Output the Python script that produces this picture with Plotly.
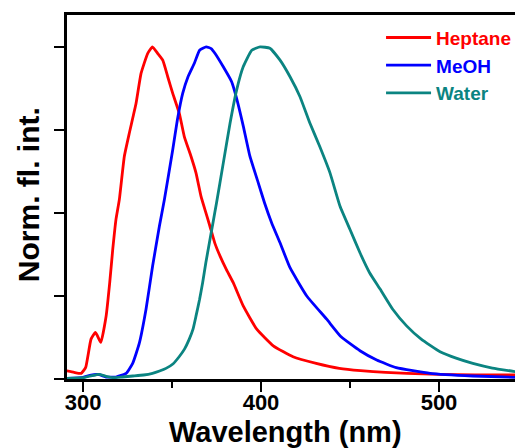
import plotly.graph_objects as go

# Heptane (red)
hep_x = [290.5, 295, 299, 301.5, 304.5, 307, 310, 313, 315, 316.7, 318.5, 320.4, 323.2, 326, 329.8,
         332.6, 336.3, 339, 342, 344.8, 347.6, 350.4, 354.1, 356.9, 360.7, 363.5, 366.3, 368.5,
         371.3, 374, 377, 380.5, 384.4, 390, 397.6, 406.9, 418, 431, 444, 456, 470, 482, 500, 520, 543]
hep_y = [0.025, 0.02, 0.017, 0.035, 0.12, 0.14, 0.11, 0.19, 0.29, 0.39, 0.48, 0.54, 0.67, 0.74, 0.83,
         0.92, 0.98, 1.0, 0.98, 0.96, 0.91, 0.86, 0.80, 0.73, 0.67, 0.62, 0.55, 0.51,
         0.46, 0.41, 0.37, 0.33, 0.29, 0.22, 0.15, 0.10, 0.067, 0.047, 0.032, 0.025, 0.02, 0.017, 0.014, 0.012, 0.012]

# MeOH (blue)
meoh_x = [290.5, 300, 304.5, 309, 313, 318.5, 324.2, 327.9, 331.6, 335.4, 339.1, 342.9, 345.7, 350.4,
          353, 356, 359, 362.5, 365.5, 369.2, 372, 374.2, 378.8, 383.5, 386.3, 390.1, 393.8, 398.5,
          402, 406, 410.7, 416.3, 425.7, 436.9, 445, 455.6, 465, 476, 495, 519, 543]
meoh_y = [0.002, 0.005, 0.012, 0.013, 0.006, 0.006, 0.017, 0.047, 0.107, 0.21, 0.34, 0.46, 0.54, 0.69,
          0.78, 0.86, 0.91, 0.95, 0.99, 1.0, 0.995, 0.98, 0.94, 0.895, 0.845, 0.76, 0.67, 0.59,
          0.53, 0.47, 0.41, 0.335, 0.25, 0.18, 0.127, 0.085, 0.057, 0.034, 0.017, 0.009, 0.005]

# Water (teal)
water_x = [290.5, 300, 305, 309, 313, 317, 322, 328, 334, 339, 343, 346.6, 350.5, 354, 357, 359.7,
           361.8, 363.5, 365.5, 367.2, 369, 371, 373, 375, 378.8, 382.6, 386.3, 390, 394.8, 399.5,
           405, 410.7, 416.3, 421.9, 427.5, 433, 438.8, 444.4, 450, 455.6, 461, 467, 474, 481.8,
           490, 500.6, 510, 519, 530, 543]
water_y = [0.002, 0.004, 0.01, 0.014, 0.008, 0.004, 0.006, 0.009, 0.012, 0.017, 0.024, 0.032, 0.045,
           0.067, 0.09, 0.12, 0.15, 0.19, 0.24, 0.29, 0.35, 0.41, 0.47, 0.53, 0.65, 0.77, 0.87, 0.94,
           0.99, 1.0, 0.996, 0.96, 0.91, 0.85, 0.77, 0.70, 0.62, 0.52, 0.45, 0.38, 0.32, 0.27, 0.21,
           0.16, 0.12, 0.082, 0.062, 0.047, 0.033, 0.022]

x_tick_vals = [300, 400, 500]
x_tick_text = ["300", "400", "500"]
y_tick_vals = [0, 0.25, 0.5, 0.75, 1.0]

FONT = "Arial, Liberation Sans, sans-serif"
RED, BLUE, TEAL = "#ff0000", "#0000ff", "#0b8481"

fig = go.Figure()
for xs, ys, name, col in [(hep_x, hep_y, "Heptane", RED),
                          (meoh_x, meoh_y, "MeOH", BLUE),
                          (water_x, water_y, "Water", TEAL)]:
    fig.add_trace(go.Scatter(
        x=xs, y=ys, mode="lines", line=dict(color=col, width=2.8, shape="spline", smoothing=0.4),
        name=f'<b><span style="color:{col}">{name}</span></b>'))

fig.update_layout(
    width=515, height=448,
    margin=dict(l=67, r=0, t=15, b=69, autoexpand=False),
    paper_bgcolor="white", plot_bgcolor="white",
    font=dict(family=FONT, color="black"),
    showlegend=True,
    legend=dict(x=0.701, y=0.99, xanchor="left", yanchor="top",
                bgcolor="rgba(0,0,0,0)", borderwidth=0,
                font=dict(family=FONT, size=19), itemwidth=45,
                tracegroupgap=0),
    xaxis=dict(range=[291, 542.7], tickvals=x_tick_vals, ticktext=x_tick_text,
               ticks="outside", ticklen=10, tickwidth=2, tickcolor="black",
               showline=True, linewidth=3, linecolor="black", mirror=True,
               showgrid=False, zeroline=False, ticklabelstandoff=-8,
               tickfont=dict(family=FONT, size=22, color="black", weight="bold"),
               minor=dict(tickvals=[350, 450], ticks="outside", ticklen=6, tickwidth=2, tickcolor="black")),
    yaxis=dict(range=[0, 1.096], tickvals=y_tick_vals, showticklabels=False,
               ticks="outside", ticklen=10, tickwidth=2, tickcolor="black",
               showline=True, linewidth=3, linecolor="black",
               showgrid=False, zeroline=False),
    annotations=[
        dict(text="<b>Wavelength (nm)</b>", xref="paper", yref="paper",
             x=0.4877, y=-0.146, xanchor="center", yanchor="middle", showarrow=False,
             font=dict(family=FONT, size=29, color="black")),
        dict(text="<b>Norm. fl. int.</b>", xref="paper", yref="paper",
             x=-0.087, y=0.505, xanchor="center", yanchor="middle", showarrow=False,
             textangle=-90, font=dict(family=FONT, size=30, color="black")),
    ],
)

# remove the page's default body margin so the 515x448 figure fills the window exactly
fig.write_html("out.html", config={"displayModeBar": False},
               post_script="document.body.style.margin='0';document.body.style.overflow='hidden';")
